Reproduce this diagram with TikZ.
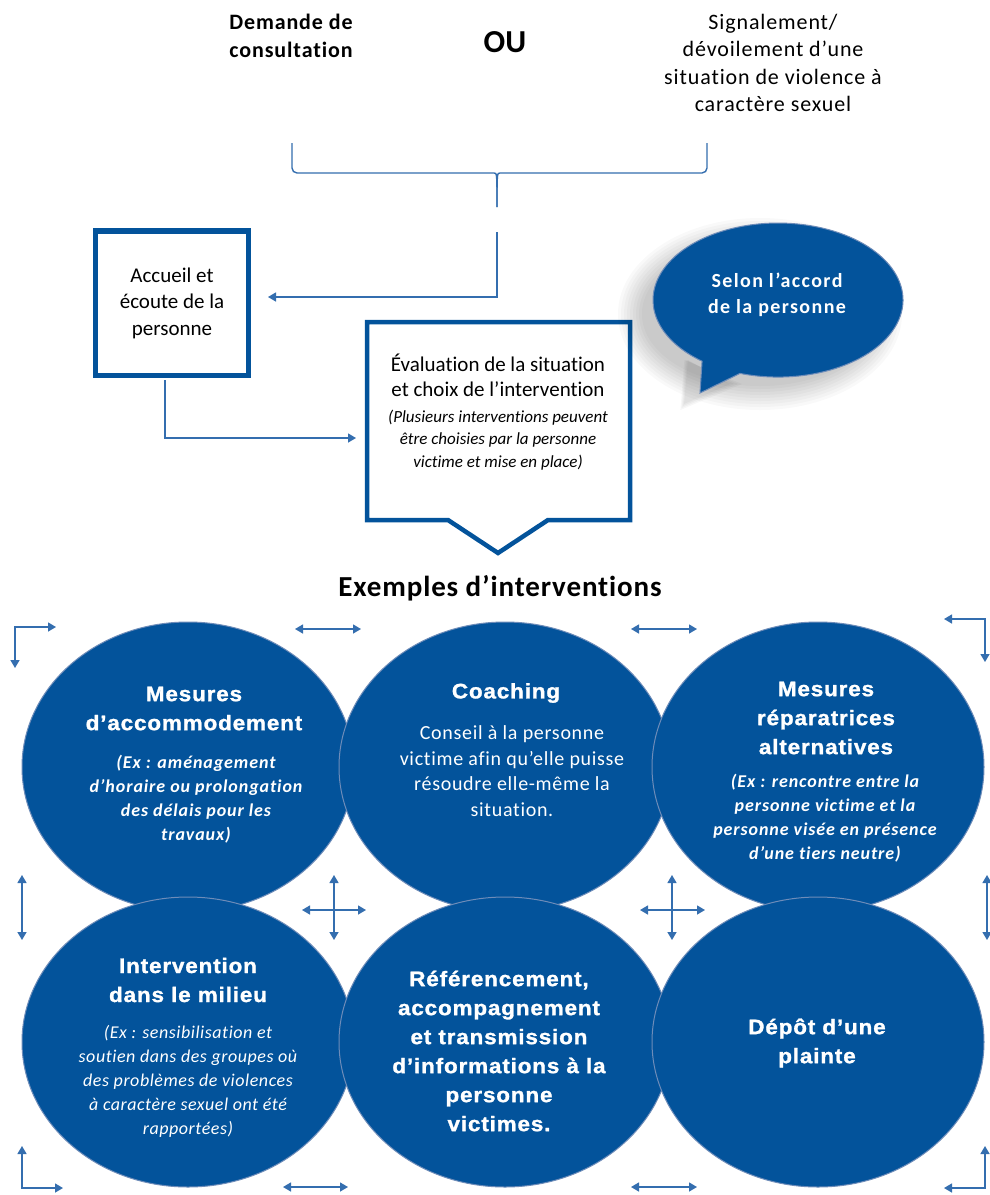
\documentclass[tikz,border=0pt]{standalone}
\usepackage{fontspec}
\setmainfont[Ligatures=NoCommon]{Carlito}
\newfontfamily\titlefont[LetterSpace=4,FakeStretch=1.07,FakeBold=1.3]{Liberation Sans}
\newfontfamily\notefont[LetterSpace=5,Ligatures=NoCommon]{Carlito}
\newfontfamily\notefontB[LetterSpace=3,Ligatures=NoCommon]{Carlito}
\newfontfamily\bodyfont[LetterSpace=3.5,Ligatures=NoCommon]{Carlito}
\newfontfamily\bubfont[LetterSpace=7,Ligatures=NoCommon]{Carlito}
\newfontfamily\topfont[LetterSpace=4,Ligatures=NoCommon]{Carlito}
\newfontfamily\exfont[LetterSpace=3,Ligatures=NoCommon]{Carlito}
\usetikzlibrary{arrows.meta}
\definecolor{navy}{RGB}{3,83,155}
\definecolor{linec}{RGB}{52,110,175}
\definecolor{edgec}{RGB}{110,140,185}
\begin{document}
\begin{tikzpicture}[x=1pt,y=-1pt,
  conn/.style={draw=linec, line width=1.4pt},
  arr/.style={conn, -{Triangle[width=9pt,length=8pt]}},
  darr/.style={conn, {Triangle[width=9pt,length=8pt]}-{Triangle[width=9pt,length=8pt]}},
  oval/.style={fill=navy, draw=edgec, line width=1pt},
  txt/.style={align=center, inner sep=0pt},
  ttl/.style={txt, text=white, font=\titlefont\bfseries\fontsize{21}{29}\selectfont},
  noteB/.style={txt, text=white, font=\notefont\bfseries\itshape\fontsize{18}{24}\selectfont},
  noteR/.style={txt, text=white, font=\notefontB\itshape\fontsize{18}{24}\selectfont},
  body/.style={txt, text=white, font=\bodyfont\fontsize{20}{25.7}\selectfont}
]
\fill[white] (0,0) rectangle (989,1195);
\useasboundingbox (0,0) rectangle (989,1195);

% top texts
\node[txt, font=\topfont\bfseries\fontsize{22}{28}\selectfont] (dem) at (291,36) {Demande de\\consultation};
\node[txt, font=\bfseries\fontsize{32}{36}\selectfont] (ou) at (505,42) {OU};
\node[txt, font=\topfont\fontsize{22}{27.3}\selectfont] (sig) at (773,63) {Signalement/\\dévoilement d’une\\situation de violence à\\caractère sexuel};

% brace
\coordinate (brL) at (292,143);
\coordinate (brR) at (707,143);
\coordinate (brTip) at (497,207);
\draw[conn, rounded corners=5pt] (brL) -- (292,173) -- (489,173) .. controls (497,173) .. (brTip);
\draw[conn, rounded corners=5pt] (brR) -- (707,173) -- (505,173) .. controls (497,173) .. (brTip);

% Accueil box
\node[draw=navy, line width=5.5pt, minimum width=153pt, minimum height=144.5pt, inner sep=0pt, align=center,
      font=\fontsize{21}{26.5}\selectfont] (acc) at (172,303) {Accueil et\\écoute de la\\personne};
\coordinate (b1) at (497,232);
\coordinate (accin) at (268,297);
\draw[arr] (b1) |- (accin);

% Evaluation callout
\draw[draw=navy, fill=white, line width=4.5pt, line join=miter] (367,322) -- (630,322) -- (630,520) -- (548,520) -- (498,553) -- (448,520) -- (367,520) -- cycle;
\node[txt, font=\fontsize{21}{25}\selectfont] (evA) at (498,375.5) {Évaluation de la situation\\et choix de l’intervention};
\node[txt, font=\itshape\fontsize{17}{22.5}\selectfont] (evB) at (498,440) {(Plusieurs interventions peuvent\\être choisies par la personne\\victime et mise en place)};
\coordinate (a1) at (165,380);
\coordinate (evin) at (356,438);
\draw[arr] (a1) |- (evin);

% speech bubble with soft shadow
\foreach \s in {24,21,18,15,12,9,6,3,0}{
  \fill[black, opacity=0.022] (760,314) ellipse [x radius=118+\s, y radius=72+\s];
}
\foreach \s in {12,8,4,0}{
  \fill[black, opacity=0.03] (688-\s*0.3,360) -- (684-\s*0.3,404+\s*0.5) -- (730+\s,384) -- cycle;
}
\draw[fill=navy, draw=edgec, line width=1pt] (702.1,361.1) -- (700,393) -- (740,373.4)
   arc[start angle=107.7, end angle=-232.6, x radius=125, y radius=77] -- cycle;
\node[txt, text=white, font=\bubfont\bfseries\fontsize{20}{26}\selectfont] (bub) at (777,295) {Selon l’accord\\de la personne};

% heading
\node[txt, font=\exfont\bfseries\fontsize{29}{32}\selectfont] (ex) at (500,588) {Exemples d’interventions};

% ellipses row 1
\draw[oval] (188,767) ellipse [x radius=166, y radius=145];
\draw[oval] (505,767) ellipse [x radius=166, y radius=145];
\draw[oval] (818,767) ellipse [x radius=166, y radius=145];
% ellipses row 2
\draw[oval] (188,1042) ellipse [x radius=166, y radius=145];
\draw[oval] (505,1042) ellipse [x radius=166, y radius=145];
\draw[oval] (818,1042) ellipse [x radius=166, y radius=145];

% ellipse texts
\node[ttl] (t1) at (194,708.5) {Mesures\\d’accommodement};
\node[noteB] (n1) at (196,799.5) {(Ex : aménagement\\d’horaire ou prolongation\\des délais pour les\\travaux)};

\node[ttl] (t2) at (506,693) {Coaching};
\node[body] (n2) at (512,771) {Conseil à la personne\\victime afin qu’elle puisse\\résoudre elle-même la\\situation.};

\node[ttl] (t3) at (826,718) {Mesures\\réparatrices\\alternatives};
\node[noteB] (n3) at (825,818) {(Ex : rencontre entre la\\personne victime et la\\personne visée en présence\\d’une tiers neutre)};

\node[ttl] (t4) at (188,980) {Intervention\\dans le milieu};
\node[noteR] (n4) at (188,1081) {(Ex : sensibilisation et\\soutien dans des groupes où\\des problèmes de violences\\à caractère sexuel ont été\\rapportées)};

\node[ttl] (t5) at (499,1051) {Référencement,\\accompagnement\\et transmission\\d’informations à la\\personne\\victimes.};

\node[ttl] (t6) at (817,1043) {Dépôt d’une\\plainte};

% small arrows around the ellipses
\draw[darr] (56,627) -- (15,627) -- (15,668);
\draw[darr] (295,629) -- (361,629);
\draw[darr] (631,629) -- (697,629);
\draw[darr] (944,619) -- (985,619) -- (985,662);
\draw[darr] (22,875) -- (22,940);
\draw[darr] (987,875) -- (987,940);
\draw[darr] (334,875) -- (334,940);
\draw[darr] (302,910) -- (366,910);
\draw[darr] (672,875) -- (672,940);
\draw[darr] (640,910) -- (705,910);
\draw[darr] (22,1146) -- (22,1188) -- (63,1188);
\draw[darr] (283,1187) -- (348,1187);
\draw[darr] (631,1187) -- (697,1187);
\draw[darr] (944,1188) -- (985,1188) -- (985,1146);
\end{tikzpicture}
\end{document}
